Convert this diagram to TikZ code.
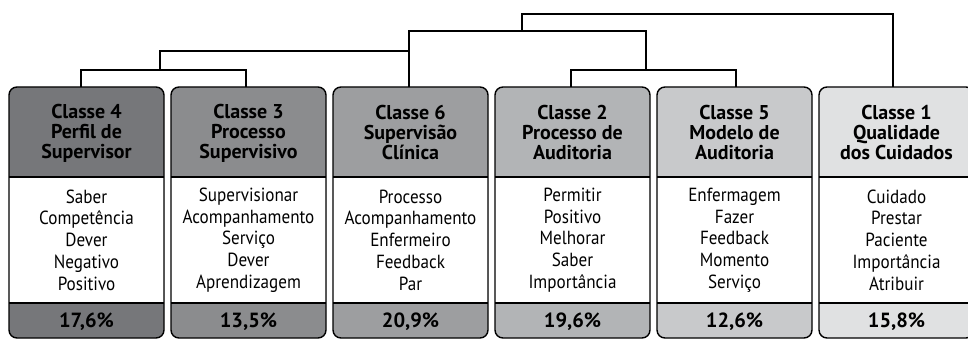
\documentclass[tikz,border=0pt]{standalone}
\usepackage{fontspec}
\setmainfont{PT Sans}
\newfontfamily\bodyfont{PT Sans}[FakeStretch=0.9]
\definecolor{gA}{RGB}{118,119,122}
\definecolor{gB}{RGB}{139,140,142}
\definecolor{gC}{RGB}{157,158,160}
\definecolor{gD}{RGB}{178,180,182}
\definecolor{gE}{RGB}{200,201,203}
\definecolor{gF}{RGB}{224,225,226}
\newcommand\classbox[8]{%
  % #1 name, #2 left x, #3 colour, #4 header, #5 body, #6 pct, #7 connector x, #8 width
  \fill[#3, rounded corners=8pt] (#2,87) rectangle ++(#8,251);
  \fill[white] (#2,177) rectangle ++(#8,126);
  \draw[boxline] (#2,177) -- ++(#8,0) (#2,303) -- ++(#8,0);
  \draw[boxline, rounded corners=8pt] (#2,87) rectangle ++(#8,251);
  \node[hdr] (#1) at ({#2+#8/2},133) {#4};
  \node[bodytxt] (#1b) at ({#2+#8/2},240) {#5};
  \node[pcttxt] (#1p) at ({#2+#8/2},322) {#6};
  \coordinate (#1t) at (#7,87);
}
\begin{document}
\begin{tikzpicture}[x=1pt,y=-1pt,
  boxline/.style={line width=1.4pt, black},
  dendro/.style={line width=2pt, black},
  hdr/.style={align=center, font=\fontsize{20}{20}\selectfont\bfseries, inner sep=0pt},
  bodytxt/.style={align=center, font=\bodyfont\fontsize{19}{21.7}\selectfont, inner sep=0pt},
  pcttxt/.style={align=center, font=\fontsize{20.5}{20}\selectfont\bfseries, inner sep=0pt}]
\useasboundingbox (0,0) rectangle (968,339);
\begin{scope}
\clip (0,0) rectangle (968,339);
\classbox{c4}{9}{gA}{Classe 4\\Perfil de\\Supervisor}{Saber\\Competência\\Dever\\Negativo\\Positivo}{17,6\%}{81}{155}
\classbox{c3}{171}{gB}{Classe 3\\Processo\\Supervisivo}{Supervisionar\\Acompanhamento\\Serviço\\Dever\\Aprendizagem}{13,5\%}{245.5}{155}
\classbox{c6}{333}{gC}{Classe 6\\Supervisão\\Clínica}{Processo\\Acompanhamento\\Enfermeiro\\Feedback\\Par}{20,9\%}{409}{155}
\classbox{c2}{495}{gD}{Classe 2\\Processo de\\Auditoria}{Permitir\\Positivo\\Melhorar\\Saber\\Importância}{19,6\%}{571}{155}
\classbox{c5}{657}{gE}{Classe 5\\Modelo de\\Auditoria}{Enfermagem\\Fazer\\Feedback\\Momento\\Serviço}{12,6\%}{736}{155}
\classbox{c1}{819}{gF}{Classe 1\\Qualidade\\dos Cuidados}{Cuidado\\Prestar\\Paciente\\Importância\\Atribuir}{15,8\%}{893}{155}
\end{scope}
\coordinate (j1) at (160,70);
\coordinate (j2) at (409,51);
\coordinate (j3) at (646,70);
\coordinate (j4) at (522,31);
\coordinate (j5) at (700,14);
\draw[dendro] (c4t) |- (j1) -| (c3t);
\draw[dendro] (j1) |- (j2);
\draw[dendro] (c6t) |- (j4) -| (j3);
\draw[dendro] (c2t) |- (j3) -| (c5t);
\draw[dendro] (j4) |- (j5) -| (c1t);
\end{tikzpicture}
\end{document}
